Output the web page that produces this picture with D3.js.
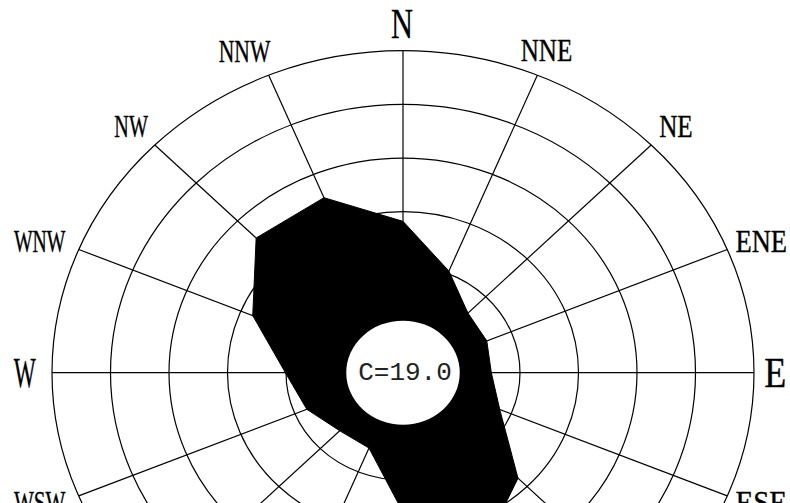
<!DOCTYPE html>
<html>
<head>
<meta charset="utf-8">
<script src="https://cdn.jsdelivr.net/npm/d3@7/dist/d3.min.js"></script>
<style>
  html, body { margin: 0; padding: 0; background: #fff; }
  svg { display: block; }
</style>
</head>
<body>
<script>
// Wind rose: 16 compass sectors, frequency radius, calm share in the centre.
const directions = ["N","NNE","NE","ENE","E","ESE","SE","SSE","S","SSW","SW","WSW","W","WNW","NW","NNW"];
const freq = [2.82, 2.05, 1.57, 1.55, 1.51, 1.79, 2.78, 3.57, 2.60, 1.52, 1.53, 1.78, 2.01, 2.78, 3.55, 3.53];
const ringLevels = [2, 3, 4, 5, 6];
const calmValue = 19.0;
const calmRadius = 0.97;

const W = 790, H = 503;
const cx = 403, cy = 372.7;

const svg = d3.select("body").append("svg")
  .attr("width", W).attr("height", H);

svg.append("rect").attr("width", W).attr("height", H).attr("fill", "#fff");

// The plot is slightly wider than tall, so the radius uses two scales.
const maxR = d3.max(ringLevels);
const rx = d3.scaleLinear().domain([0, maxR]).range([0, 351]);
const ry = d3.scaleLinear().domain([0, maxR]).range([0, 322]);
const angle = d3.scalePoint().domain(directions).range([0, 2 * Math.PI * 15 / 16]);

const px = (d, r) => cx + rx(r) * Math.sin(angle(d));
const py = (d, r) => cy - ry(r) * Math.cos(angle(d));

const g = svg.append("g");

// rings
g.selectAll("ellipse.ring").data(ringLevels).join("ellipse")
  .attr("class", "ring")
  .attr("cx", cx).attr("cy", cy)
  .attr("rx", d => rx(d)).attr("ry", d => ry(d))
  .attr("fill", "none").attr("stroke", "#000").attr("stroke-width", 1.2);

// spokes
g.selectAll("line.spoke").data(directions).join("line")
  .attr("class", "spoke")
  .attr("x1", cx).attr("y1", cy)
  .attr("x2", d => px(d, maxR)).attr("y2", d => py(d, maxR))
  .attr("stroke", "#000").attr("stroke-width", 1.2);

// frequency polygon
const pts = directions.map((d, i) => [px(d, freq[i]), py(d, freq[i])]);
g.append("path")
  .attr("d", d3.line().curve(d3.curveLinearClosed)(pts))
  .attr("fill", "#000").attr("stroke", "#000").attr("stroke-width", 1);

// calm circle
g.append("ellipse")
  .attr("cx", cx).attr("cy", cy)
  .attr("rx", rx(calmRadius)).attr("ry", ry(calmRadius))
  .attr("fill", "#fff");

g.append("text")
  .attr("x", cx + 2).attr("y", cy)
  .attr("text-anchor", "middle").attr("dominant-baseline", "central")
  .attr("font-family", "'Liberation Mono', 'DejaVu Sans Mono', monospace")
  .attr("font-size", 26).attr("fill", "#222")
  .text("C=" + calmValue.toFixed(1));

// direction labels, set just outside the outer ring with small per-label nudges
const cardinal = new Set(["N", "E", "S", "W"]);
const labelWidth = { 1: 22, 2: 33.5, 3: 51.5 };
const nudge = {
  N: [-1, 0], NNE: [-2, 0], NE: [4, 0], ENE: [7, 2], E: [-8, 0], ESE: [7, -4],
  WSW: [-12, -4], W: [2, 0], WNW: [-12, 2], NW: [-3, 0], NNW: [-13, 1]
};
const labelR = 6.5;
g.selectAll("text.dir").data(directions).join("text")
  .attr("class", "dir")
  .attr("x", d => px(d, labelR) + (nudge[d] ? nudge[d][0] : 0))
  .attr("y", d => py(d, labelR) + (nudge[d] ? nudge[d][1] : 0))
  .attr("text-anchor", "middle").attr("dominant-baseline", "central")
  .attr("font-family", "'Liberation Serif', 'Times New Roman', serif")
  .attr("font-size", d => cardinal.has(d) ? 43 : 32)
  .attr("textLength", d => labelWidth[d.length])
  .attr("lengthAdjust", "spacingAndGlyphs")
  .attr("fill", "#000")
  .attr("stroke", "#000").attr("stroke-width", 0.4)
  .text(d => d);
</script>
</body>
</html>
